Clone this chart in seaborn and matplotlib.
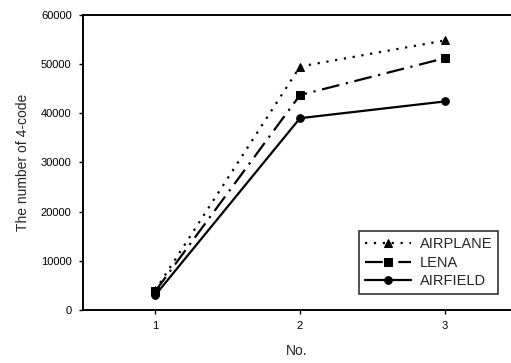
import matplotlib
matplotlib.use("Agg")
import matplotlib.pyplot as plt
import seaborn as sns
import pandas as pd

# Values
x_no = [1, 2, 3]
airplane = [4000, 49500, 54800]
lena = [3800, 43700, 51200]
airfield = [3000, 39000, 42400]

sns.set_theme(style="ticks")
plt.rcParams['font.family'] = ['Liberation Sans', 'DejaVu Sans']

df = pd.DataFrame({
    "No.": x_no * 3,
    "count": airplane + lena + airfield,
    "image": ["AIRPLANE"] * 3 + ["LENA"] * 3 + ["AIRFIELD"] * 3,
})

fig = plt.figure(figsize=(5.11, 3.63), dpi=100)
ax = fig.add_axes([0.162, 0.146, 0.836, 0.813])

styles = {
    "AIRPLANE": dict(ls=(0, (1, 3)), marker="^"),
    "LENA": dict(ls=(0, (8, 3, 1, 3)), marker="s"),
    "AIRFIELD": dict(ls="-", marker="o"),
}
for name in ["AIRPLANE", "LENA", "AIRFIELD"]:
    sub = df[df["image"] == name]
    sns.lineplot(data=sub, x="No.", y="count", ax=ax, color="black",
                 linewidth=1.6, linestyle=styles[name]["ls"],
                 marker=styles[name]["marker"], markersize=5.5,
                 markeredgecolor="black", label=name)

ax.set_xlim(0.5, 3.45)
ax.set_ylim(0, 60000)
ax.set_xticks(x_no)
ax.set_yticks(range(0, 60001, 10000))
ax.set_xlabel("No.", fontsize=10, labelpad=9)
ax.set_ylabel("The number of 4-code", fontsize=10, labelpad=8)
ax.tick_params(labelsize=8, width=1, length=3, colors="black", pad=5)
for s in ["left", "bottom", "top"]:
    ax.spines[s].set_linewidth(1.4)
    ax.spines[s].set_color("black")
ax.spines["right"].set_visible(False)

leg = ax.legend(loc="lower right", frameon=True, fancybox=False,
                edgecolor="black", fontsize=10.5, handlelength=3.2,
                borderpad=0.4, labelspacing=0.3, handletextpad=0.6,
                bbox_to_anchor=(0.99, 0.03))
leg.get_frame().set_linewidth(1.2)

fig.savefig("out.png", dpi=100)
